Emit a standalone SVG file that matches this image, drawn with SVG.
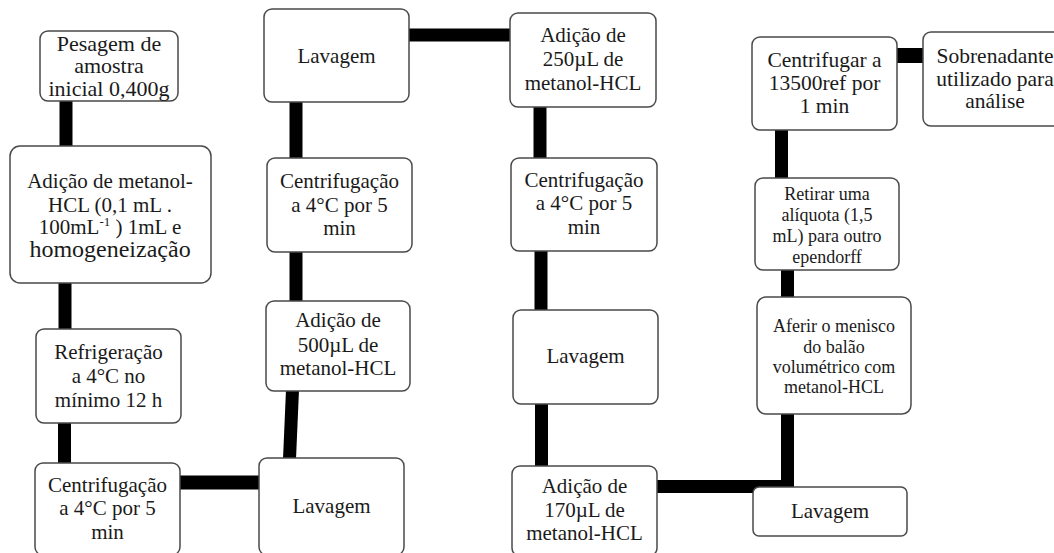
<svg xmlns="http://www.w3.org/2000/svg" width="1054" height="553" viewBox="0 0 1054 553">
<style>
.box{fill:#fff;stroke:#4a4a4a;stroke-width:1.5}
.c{fill:none;stroke:#000;stroke-width:13;stroke-linejoin:miter}
</style>
<rect width="1054" height="553" fill="#fff"/>
<g id="connectors">
<line class="c" x1="66" y1="100" x2="66" y2="147"/>
<line class="c" x1="65" y1="282" x2="65" y2="330"/>
<line class="c" x1="64.5" y1="422" x2="64.5" y2="464"/>
<line class="c" x1="179" y1="482.5" x2="260" y2="482.5" style="stroke-width:14"/>
<line class="c" x1="289.5" y1="459" x2="292.5" y2="390"/>
<line class="c" x1="296" y1="251" x2="296" y2="302"/>
<line class="c" x1="296" y1="101" x2="296" y2="159"/>
<line class="c" x1="408" y1="35" x2="511" y2="35"/>
<line class="c" x1="540" y1="106" x2="540" y2="159"/>
<line class="c" x1="541" y1="250" x2="541" y2="311"/>
<line class="c" x1="541.5" y1="403" x2="541.5" y2="467"/>
<polyline class="c" points="656,486.5 787.5,486.5 787.5,413"/>
<line class="c" x1="787.5" y1="269" x2="787.5" y2="298"/>
<line class="c" x1="781.5" y1="129" x2="781.5" y2="179"/>
<line class="c" x1="896" y1="55.5" x2="924" y2="55.5" style="stroke-width:15"/>
</g>
<g id="n1"><rect class="box" x="40" y="31" width="138" height="70" rx="8"/>
<text style="font-family:'Liberation Serif',serif;font-size:22px;fill:#1a1a1a;text-anchor:middle"><tspan x="109" y="51">Pesagem de</tspan><tspan x="109" y="73">amostra</tspan><tspan x="109" y="96">inicial 0,400g</tspan></text></g>
<g id="n2"><rect class="box" x="10" y="146" width="201" height="137" rx="10"/>
<text style="font-family:'Liberation Serif',serif;font-size:21px;fill:#1a1a1a;text-anchor:middle"><tspan x="110" y="188">Adição de metanol-</tspan><tspan x="110" y="212">HCL (0,1 mL .</tspan><tspan x="110" y="234">100mL</tspan><tspan dy="-8" style="font-size:13px">-1</tspan><tspan dy="8"> ) 1mL e</tspan><tspan x="110" y="257" style="font-size:24px">homogeneização</tspan></text></g>
<g id="n3"><rect class="box" x="36" y="329" width="145" height="94" rx="8"/>
<text style="font-family:'Liberation Serif',serif;font-size:21px;fill:#1a1a1a;text-anchor:middle"><tspan x="108.5" y="359">Refrigeração</tspan><tspan x="108.5" y="383">a 4°C no</tspan><tspan x="108.5" y="407">mínimo 12 h</tspan></text></g>
<g id="n4"><rect class="box" x="35" y="463" width="145" height="92" rx="8"/>
<text style="font-family:'Liberation Serif',serif;font-size:21px;fill:#1a1a1a;text-anchor:middle"><tspan x="107.5" y="492">Centrifugação</tspan><tspan x="107.5" y="515">a 4°C por 5</tspan><tspan x="107.5" y="539">min</tspan></text></g>
<g id="n5"><rect class="box" x="259" y="458" width="145" height="97" rx="8"/>
<text x="331.5" y="513" style="font-family:'Liberation Serif',serif;font-size:21px;fill:#1a1a1a;text-anchor:middle">Lavagem</text></g>
<g id="n6"><rect class="box" x="266" y="301" width="144" height="90" rx="8"/>
<text style="font-family:'Liberation Serif',serif;font-size:21px;fill:#1a1a1a;text-anchor:middle"><tspan x="338" y="327">Adição de</tspan><tspan x="338" y="352">500µL de</tspan><tspan x="338" y="375">metanol-HCL</tspan></text></g>
<g id="n7"><rect class="box" x="267" y="158" width="145" height="94" rx="8"/>
<text style="font-family:'Liberation Serif',serif;font-size:21px;fill:#1a1a1a;text-anchor:middle"><tspan x="339.5" y="188">Centrifugação</tspan><tspan x="339.5" y="212">a 4°C por 5</tspan><tspan x="339.5" y="235">min</tspan></text></g>
<g id="n8"><rect class="box" x="264" y="9" width="145" height="93" rx="8"/>
<text x="336.5" y="63" style="font-family:'Liberation Serif',serif;font-size:21px;fill:#1a1a1a;text-anchor:middle">Lavagem</text></g>
<g id="n9"><rect class="box" x="510" y="13" width="146" height="94" rx="8"/>
<text style="font-family:'Liberation Serif',serif;font-size:21px;fill:#1a1a1a;text-anchor:middle"><tspan x="583" y="42">Adição de</tspan><tspan x="583" y="66">250µL de</tspan><tspan x="583" y="90">metanol-HCL</tspan></text></g>
<g id="n10"><rect class="box" x="511" y="158" width="146" height="93" rx="8"/>
<text style="font-family:'Liberation Serif',serif;font-size:21px;fill:#1a1a1a;text-anchor:middle"><tspan x="584" y="187">Centrifugação</tspan><tspan x="584" y="210">a 4°C por 5</tspan><tspan x="584" y="234">min</tspan></text></g>
<g id="n11"><rect class="box" x="513" y="310" width="145" height="94" rx="8"/>
<text x="585.5" y="363" style="font-family:'Liberation Serif',serif;font-size:21px;fill:#1a1a1a;text-anchor:middle">Lavagem</text></g>
<g id="n12"><rect class="box" x="512" y="466" width="145" height="90" rx="8"/>
<text style="font-family:'Liberation Serif',serif;font-size:21px;fill:#1a1a1a;text-anchor:middle"><tspan x="584.5" y="493">Adição de</tspan><tspan x="584.5" y="517">170µL de</tspan><tspan x="584.5" y="540">metanol-HCL</tspan></text></g>
<g id="n13"><rect class="box" x="753" y="487" width="154" height="49" rx="6"/>
<text x="830" y="518" style="font-family:'Liberation Serif',serif;font-size:21px;fill:#1a1a1a;text-anchor:middle">Lavagem</text></g>
<g id="n14"><rect class="box" x="757" y="297" width="154" height="117" rx="9"/>
<text style="font-family:'Liberation Serif',serif;font-size:18px;fill:#1a1a1a;text-anchor:middle"><tspan x="834" y="332">Aferir o menisco</tspan><tspan x="834" y="352.5">do balão</tspan><tspan x="834" y="373">volumétrico com</tspan><tspan x="834" y="393">metanol-HCL</tspan></text></g>
<g id="n15"><rect class="box" x="755" y="178" width="144" height="92" rx="8"/>
<text style="font-family:'Liberation Serif',serif;font-size:18px;fill:#1a1a1a;text-anchor:middle"><tspan x="827" y="200">Retirar uma</tspan><tspan x="827" y="221">alíquota (1,5</tspan><tspan x="827" y="242">mL) para outro</tspan><tspan x="827" y="263">ependorff</tspan></text></g>
<g id="n16"><rect class="box" x="752" y="37" width="145" height="93" rx="8"/>
<text style="font-family:'Liberation Serif',serif;font-size:21.5px;fill:#1a1a1a;text-anchor:middle"><tspan x="824.5" y="67">Centrifugar a</tspan><tspan x="824.5" y="90">13500ref por</tspan><tspan x="824.5" y="113">1 min</tspan></text></g>
<g id="n17"><rect class="box" x="923" y="32" width="140" height="94" rx="8"/>
<text style="font-family:'Liberation Serif',serif;font-size:21.5px;fill:#1a1a1a;text-anchor:middle"><tspan x="995" y="63">Sobrenadante</tspan><tspan x="995" y="86">utilizado para</tspan><tspan x="995" y="108">análise</tspan></text></g>
</svg>
